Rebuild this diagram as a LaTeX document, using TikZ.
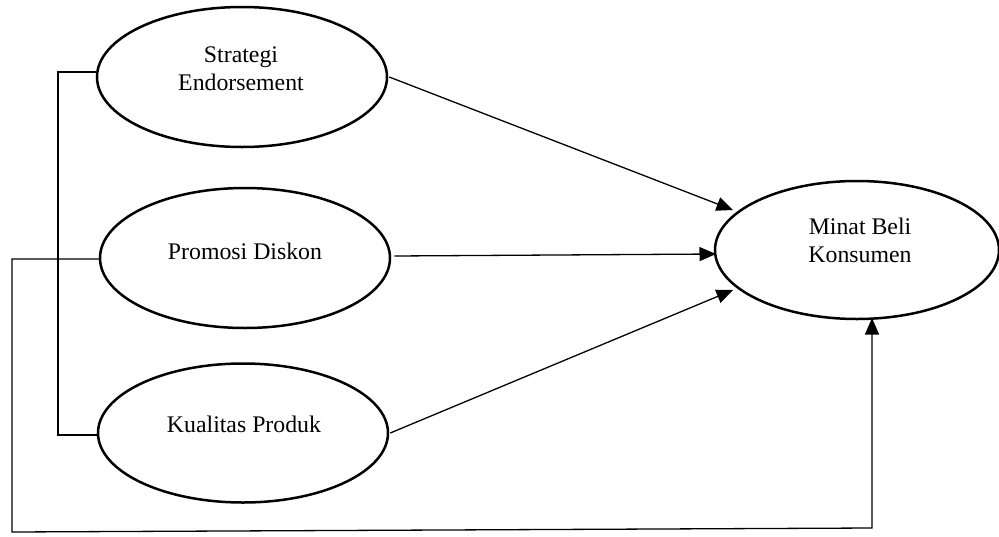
\documentclass[tikz,border=0pt]{standalone}
\usepackage{fontspec}
\setmainfont{Liberation Serif}
\usetikzlibrary{shapes.geometric,arrows.meta}
\begin{document}
\begin{tikzpicture}[x=1pt,y=-1pt,
  var/.style={draw,ellipse,line width=2.5pt,inner sep=0pt},
  lbl/.style={font=\fontsize{23.8}{27.5}\selectfont,align=center,inner sep=0pt},
  conn/.style={line width=1.3pt},
  arr/.style={conn,-{Triangle[length=16.5pt,width=14pt]}}]
\useasboundingbox (0,0) rectangle (999,536);
% ellipses
\node[var,minimum width=290pt,minimum height=140pt] (e1) at (242,77) {};
\node[var,minimum width=290pt,minimum height=140pt] (e2) at (245,258) {};
\node[var,minimum width=290pt,minimum height=139pt] (e3) at (243,433) {};
\node[var,minimum width=284pt,minimum height=138pt] (e4) at (857,250) {};
% labels
\node[lbl] (l1) at (241,68.5) {Strategi\\Endorsement};
\node[lbl,anchor=base] (l2) at (245,259) {Promosi Diskon};
\node[lbl,anchor=base] (l3) at (244,432) {Kualitas Produk};
\node[lbl] (l4) at (860,240.5) {Minat Beli\\Konsumen};
% left bracket between e1 and e3
\coordinate (b1) at (58,72);
\coordinate (b3) at (58,435);
\draw[conn] (e1.west |- b1) -- (b1) -- (b3) -- (e3.west |- b3);
% long path from e2 to e4
\coordinate (c1) at (12,259);
\coordinate (c2) at (12,532);
\coordinate (c3) at (872,528);
\coordinate (c4) at (872,318);
\draw[arr] (e2.west |- c1) -- (c1) -- (c2) -- (c3) -- (c4);
% arrows into e4
\coordinate (t1) at (733,210);
\coordinate (t2) at (716,254);
\coordinate (t3) at (733,290);
\draw[arr] ([xshift=1pt]e1.east) -- (t1);
\draw[arr] ([xshift=3pt,yshift=2pt]e2.east) -- (t2);
\draw[arr] ([xshift=1pt]e3.east) -- (t3);
\end{tikzpicture}
\end{document}
